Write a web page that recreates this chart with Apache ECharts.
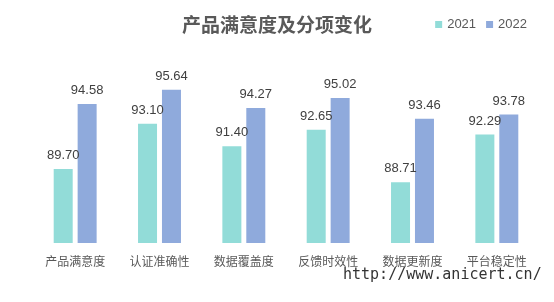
<!DOCTYPE html>
<html>
<head>
<meta charset="utf-8">
<script src="https://cdn.jsdelivr.net/npm/echarts@6/dist/echarts.min.js"></script>
<style>
  html, body { margin: 0; padding: 0; background: #fff; }
  #chart { width: 554px; height: 302px; }
</style>
</head>
<body>
<div id="chart"></div>
<script>
var categories = ['产品满意度', '认证准确性', '数据覆盖度', '反馈时效性', '数据更新度', '平台稳定性'];
var values2021 = [89.70, 93.10, 91.40, 92.65, 88.71, 92.29];
var values2022 = [94.58, 95.64, 94.27, 95.02, 93.46, 93.78];

var chart = echarts.init(document.getElementById('chart'));

var labelStyle = {
  show: true,
  position: 'top',
  distance: 7,
  color: '#404040',
  fontSize: 13,
  fontFamily: 'Liberation Sans, Arial, sans-serif',
  formatter: function (p) { return p.value.toFixed(2); }
};

var option = {
  animation: false,
  title: {
    text: '产品满意度及分项变化',
    left: 'center',
    top: 10,
    textStyle: {
      color: '#595959',
      fontSize: 19,
      fontWeight: 'bold',
      fontFamily: 'Noto Sans CJK SC'
    }
  },
  legend: {
    data: ['2021', '2022'],
    right: 22,
    top: 13,
    itemWidth: 7,
    itemHeight: 7,
    itemGap: 10,
    icon: 'rect',
    textStyle: {
      color: '#595959',
      fontSize: 13,
      fontFamily: 'Liberation Sans, Arial, sans-serif'
    }
  },
  grid: {
    left: 33,
    right: 15,
    top: 43,
    bottom: 59
  },
  xAxis: {
    type: 'category',
    data: categories,
    axisLine: { show: false },
    axisTick: { show: false },
    axisLabel: {
      margin: 12,
      color: '#595959',
      fontSize: 12,
      fontFamily: 'Noto Sans CJK SC'
    }
  },
  yAxis: {
    type: 'value',
    min: 84.15,
    max: 99.15,
    show: false,
    splitLine: { show: false }
  },
  series: [
    {
      name: '2021',
      type: 'bar',
      data: values2021,
      barWidth: 19,
      barGap: '26%',
      itemStyle: { color: '#92DCD8' },
      label: labelStyle
    },
    {
      name: '2022',
      type: 'bar',
      data: values2022,
      barWidth: 19,
      itemStyle: { color: '#8FAADC' },
      label: labelStyle
    }
  ],
  graphic: [
    {
      type: 'text',
      left: 343,
      top: 268,
      style: {
        text: 'http://www.anicert.cn/',
        fill: '#333333',
        fontSize: 15,
        fontFamily: 'DejaVu Sans Mono, monospace'
      }
    }
  ]
};

chart.setOption(option);
</script>
</body>
</html>
